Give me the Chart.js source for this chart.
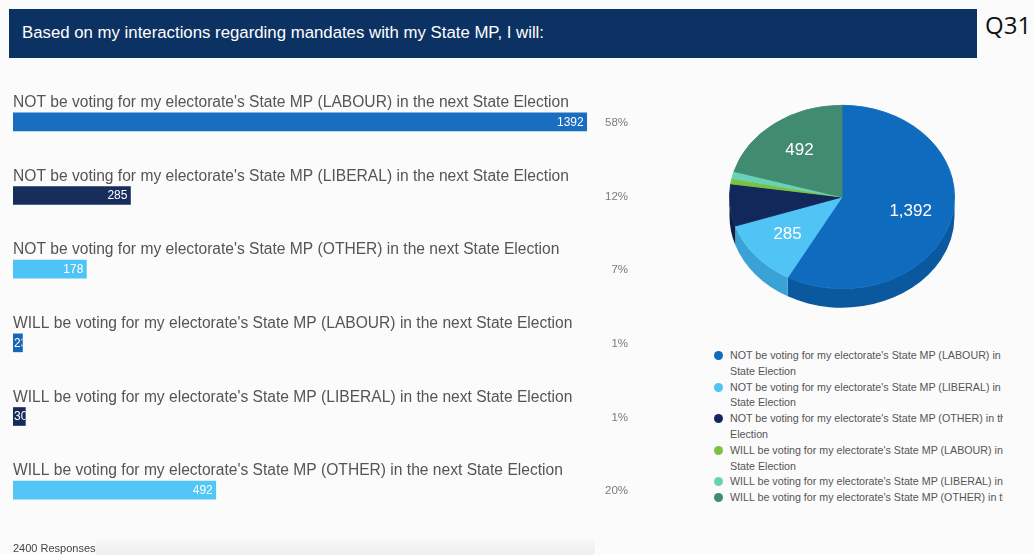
<!DOCTYPE html>
<html><head><meta charset="utf-8">
<script src="https://cdn.jsdelivr.net/npm/chart.js@4.4.1/dist/chart.umd.min.js"></script>
<style>
html,body{margin:0;padding:0;width:1033px;height:555px;overflow:hidden;background:#fbfbfb;font-family:"Liberation Sans",Arial,sans-serif;}
#hdr{position:absolute;left:9px;top:9px;width:968px;height:49px;background:#0c3263;}
#hdr span{position:absolute;left:13px;top:14px;color:#fff;font-size:16.8px;white-space:nowrap;}
#q{position:absolute;left:985px;top:8px;font-size:24px;color:#111;font-family:"Open Sans",sans-serif;white-space:nowrap;}
#bar{position:absolute;left:0;top:0;}
#pie{position:absolute;left:700px;top:80px;}
#legend{position:absolute;left:710px;top:348px;width:293px;overflow:hidden;font-size:10.7px;color:#555;}
.li{position:relative;padding-left:20px;line-height:15.8px;white-space:nowrap;}
.dot{position:absolute;left:4px;top:3px;width:9px;height:9px;border-radius:50%;}
#resp{position:absolute;left:13px;top:542px;font-size:11px;color:#444;}
#shade{position:absolute;left:95px;top:539px;width:500px;height:16px;background:linear-gradient(#f8f8f8,#eeeeee);border-radius:4px;}
</style></head>
<body>
<div id="hdr"><span id="title"></span></div>
<div id="q">Q31</div>
<canvas id="bar" width="660" height="555"></canvas>
<canvas id="pie" width="290" height="260"></canvas>
<div id="legend"></div>
<div id="shade"></div>
<div id="resp"></div>
<script>
const titleText = "Based on my interactions regarding mandates with my State MP, I will:";
const categories = [
  "NOT be voting for my electorate's State MP (LABOUR) in the next State Election",
  "NOT be voting for my electorate's State MP (LIBERAL) in the next State Election",
  "NOT be voting for my electorate's State MP (OTHER) in the next State Election",
  "WILL be voting for my electorate's State MP (LABOUR) in the next State Election",
  "WILL be voting for my electorate's State MP (LIBERAL) in the next State Election",
  "WILL be voting for my electorate's State MP (OTHER) in the next State Election"
];
const responses = [1392, 285, 178, 23, 30, 492];
const percentLabels = ["58%", "12%", "7%", "1%", "1%", "20%"];

// styles
const barColors = ["#1a6ec0", "#172d5c", "#4ec4f6", "#1767b8", "#172a58", "#52c6f7"];
const pieColors = ["#0f6bbd", "#50c4f5", "#13285a", "#7cc242", "#68d2b8", "#418b71"];
const sideColors = ["#0a589e", "#3aa2d4", "#0d1f47", "#62a030", "#4fb39a", "#2f6d56"];
const legendWrapWords = [2, 2, 1, 2, 0, 0];

const total = responses.reduce((a, b) => a + b, 0);
document.getElementById('title').textContent = titleText;
document.getElementById('resp').textContent = total + " Responses";

const FONT = '"Liberation Sans", Arial, sans-serif';

const barText = {
  id: 'barText',
  afterDatasetsDraw(chart) {
    const ctx = chart.ctx;
    const meta = chart.getDatasetMeta(0);
    meta.data.forEach((el, i) => {
      const top = el.y - el.height / 2;
      ctx.save();
      ctx.font = '15.6px ' + FONT;
      ctx.fillStyle = '#555';
      ctx.textAlign = 'left';
      ctx.textBaseline = 'alphabetic';
      ctx.fillText(categories[i], chart.chartArea.left, top - 6);
      ctx.restore();

      ctx.save();
      ctx.beginPath();
      ctx.rect(el.base, top, el.x - el.base, el.height);
      ctx.clip();
      ctx.font = '12px ' + FONT;
      ctx.fillStyle = '#ffffff';
      ctx.textBaseline = 'middle';
      ctx.textAlign = 'left';
      const s = String(responses[i]);
      const w = ctx.measureText(s).width;
      const tx = Math.max(el.base + 1, el.x - 3 - w);
      ctx.fillText(s, tx, el.y + 0.5);
      ctx.restore();

      ctx.save();
      ctx.font = '11.5px ' + FONT;
      ctx.fillStyle = '#7a7a7a';
      ctx.textAlign = 'right';
      ctx.textBaseline = 'middle';
      ctx.fillText(percentLabels[i], chart.chartArea.right + 38, el.y + 1);
      ctx.restore();
    });
  }
};

new Chart(document.getElementById('bar'), {
  type: 'bar',
  data: {
    labels: categories,
    datasets: [{ data: responses, backgroundColor: barColors, barThickness: 18, borderWidth: 0 }]
  },
  options: {
    indexAxis: 'y',
    responsive: false,
    animation: false,
    events: [],
    layout: { padding: { left: 13, right: 70, top: 85, bottom: 28 } },
    scales: { x: { display: false, min: 0, max: 1400 }, y: { display: false } },
    plugins: { legend: { display: false }, tooltip: { enabled: false } }
  },
  plugins: [barText]
});

const SY = 0.815, DEPTH = 19;
const pie3d = {
  id: 'pie3d',
  beforeDatasetsDraw(chart) {
    const ctx = chart.ctx;
    const meta = chart.getDatasetMeta(0);
    const el0 = meta.data[0];
    const cx = el0.x, cy = el0.y, r = el0.outerRadius;
    meta.data.forEach((el, i) => {
      const a = Math.max(el.startAngle, 0), b = Math.min(el.endAngle, Math.PI);
      if (a >= b) return;
      ctx.beginPath();
      ctx.ellipse(cx, cy, r, r * SY, 0, a, b, false);
      ctx.ellipse(cx, cy + DEPTH, r, r * SY, 0, b, a, true);
      ctx.closePath();
      ctx.fillStyle = sideColors[i];
      ctx.fill();
    });
    ctx.save();
    ctx.translate(cx, cy);
    ctx.scale(1, SY);
    ctx.translate(-cx, -cy);
  },
  afterDatasetsDraw(chart) {
    const ctx = chart.ctx;
    ctx.restore();
    const meta = chart.getDatasetMeta(0);
    meta.data.forEach((el, i) => {
      if (responses[i] / total < 0.1) return;
      const mid = (el.startAngle + el.endAngle) / 2;
      const rr = el.outerRadius * 0.63;
      const x = el.x + rr * Math.cos(mid);
      const y = el.y + rr * SY * Math.sin(mid);
      ctx.save();
      ctx.font = '17px ' + FONT;
      ctx.fillStyle = '#ffffff';
      ctx.textAlign = 'center';
      ctx.textBaseline = 'middle';
      ctx.fillText(responses[i].toLocaleString('en-US'), x, y);
      ctx.restore();
    });
  }
};

new Chart(document.getElementById('pie'), {
  type: 'pie',
  data: {
    labels: categories,
    datasets: [{ data: responses, backgroundColor: pieColors, borderColor: pieColors, borderWidth: 1 }]
  },
  options: {
    responsive: false,
    animation: false,
    events: [],
    layout: { padding: { left: 29, right: 35, top: 4, bottom: 30 } },
    plugins: { legend: { display: false }, tooltip: { enabled: false } }
  },
  plugins: [pie3d]
});

// legend
const legend = document.getElementById('legend');
categories.forEach((c, i) => {
  const words = c.split(' ');
  const n = legendWrapWords[i];
  const lines = n > 0 ? [words.slice(0, words.length - n).join(' '), words.slice(words.length - n).join(' ')] : [c];
  lines.forEach((ln, k) => {
    const d = document.createElement('div');
    d.className = 'li';
    if (k === 0) {
      const dot = document.createElement('span');
      dot.className = 'dot';
      dot.style.background = pieColors[i];
      d.appendChild(dot);
    }
    d.appendChild(document.createTextNode(ln));
    legend.appendChild(d);
  });
});
</script>
</body></html>
